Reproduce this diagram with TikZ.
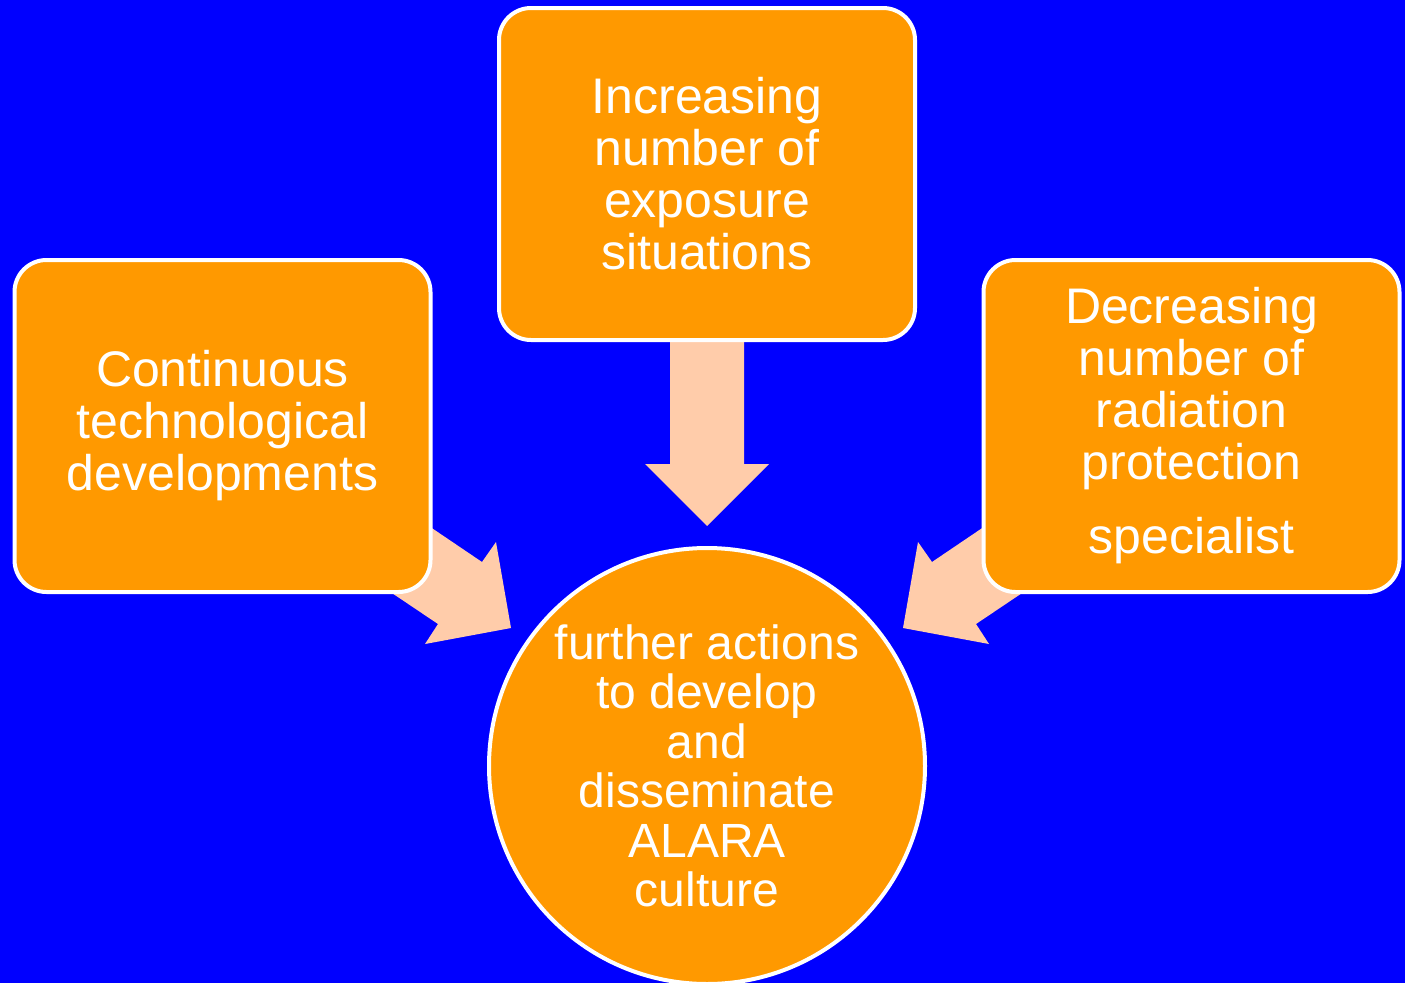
\documentclass[tikz,border=0pt]{standalone}
\usepackage{fontspec}
\setmainfont{Liberation Sans}
\definecolor{bgblue}{HTML}{0000FF}
\definecolor{boxorange}{HTML}{FF9900}
\definecolor{peach}{HTML}{FFCCAA}
\begin{document}
\begin{tikzpicture}[x=1pt,y=-1pt,
  box/.style={draw=white,line width=4pt,fill=boxorange,rounded corners=32pt,
    minimum width=416pt,minimum height=332pt,inner sep=0pt,align=center,
    text=white,font=\fontsize{50}{52}\selectfont},
  goal/.style={circle,draw=white,line width=4pt,fill=boxorange,minimum size=436pt,
    inner sep=0pt,align=center,text=white,font=\fontsize{48}{49.5}\selectfont},
  blockarrow/.style={fill=peach,draw=none}]
\useasboundingbox (0,0) rectangle (1405,983);
\fill[bgblue] (0,0) rectangle (1405,983);
% block arrows
\fill[blockarrow] (670,330) -- (744,330) -- (744,464) -- (769,464) -- (707,526) -- (645,464) -- (670,464) -- cycle;
\fill[blockarrow] (380,493) -- (482,562) -- (496,542) -- (511,628) -- (425,644) -- (438,624) -- (380,585) -- cycle;
\fill[blockarrow] (1034,493) -- (932,562) -- (918,542) -- (903,628) -- (989,644) -- (976,624) -- (1034,585) -- cycle;
% boxes
\node[box] (top) at (707,174) {Increasing\\number of\\exposure\\situations};
\node[box] (left) at (222.5,426) {Continuous\\technological\\developments};
\node[box] (right) at (1191.5,426) {Decreasing\\number of\\radiation\\protection\\[22pt]specialist};
\node[goal] (goal) at (707,766) {further actions\\to develop\\and\\disseminate\\ALARA\\culture};
\end{tikzpicture}
\end{document}
